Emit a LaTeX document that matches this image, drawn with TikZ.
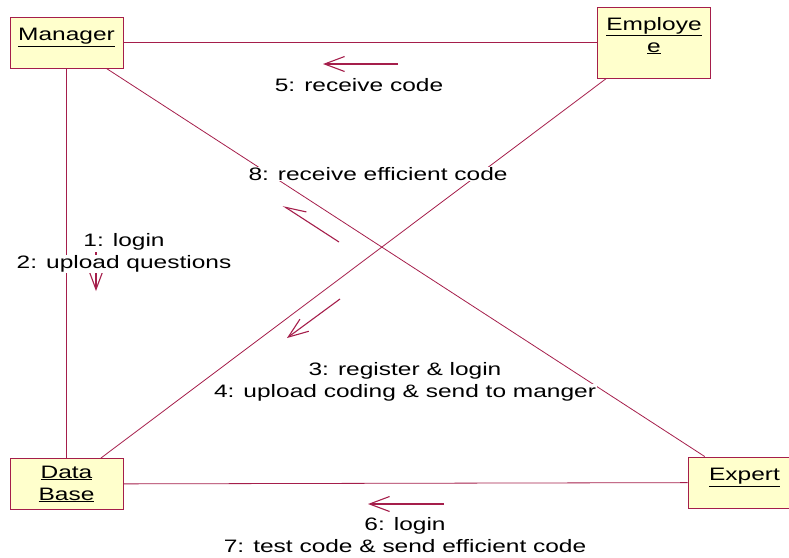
\documentclass[tikz,border=0pt]{standalone}
\usepackage{fontspec}
\setmainfont{Liberation Sans}[FakeStretch=1.36]
\usetikzlibrary{arrows.meta}
\definecolor{umlred}{RGB}{165,30,75}
\definecolor{umlfill}{RGB}{255,255,204}
\newcommand{\bgl}[1]{{\setlength{\fboxsep}{0.6pt}\colorbox{white}{#1}}}

\begin{document}
\begin{tikzpicture}[x=1pt, y=-1pt,
  obj/.style={draw=umlred, fill=umlfill, line width=0.9pt, minimum width=113pt,
    minimum height=51pt, inner sep=0pt, align=center,
    font=\fontsize{18}{22}\selectfont},
  link/.style={draw=umlred, line width=0.8pt},
  msg/.style={draw=umlred, line width=1.1pt, -{Straight Barb[length=20pt,width=15pt]}},
  desc/.style={inner sep=0pt, align=center, font=\fontsize{18}{22}\selectfont}
]
  \useasboundingbox (0,0) rectangle (789,557);
  \clip (0,0) rectangle (789,557);

  % objects
  \node[obj] (manager) at (66.5,42.5) {\underline{Manager}\\[-6pt]\mbox{}};
  \node[obj, minimum height=71pt] (employe) at (654,42.5) {\underline{Employe}\\\underline{e}\\[-6pt]\mbox{}};
  \node[obj] (database) at (66.5,484) {\underline{Data}\\\underline{Base}};
  \node[obj] (expert) at (744.5,482.5) {\underline{Expert}\\[-6pt]\mbox{}};

  % links
  \draw[link] (manager) -- (employe);
  \draw[link] (manager) -- (database);
  \draw[link] (manager) -- (expert);
  \draw[link] (employe) -- (database);
  \draw[link] (database) -- (expert);

  % message arrows
  \coordinate (m5s) at (398,64);   \coordinate (m5e) at (323,64);
  \coordinate (m8s) at (339,242);  \coordinate (m8e) at (283,205.7);
  \coordinate (m1s) at (96,252);   \coordinate (m1e) at (96,291);
  \coordinate (m3s) at (340,299);  \coordinate (m3e) at (287,338);
  \coordinate (m6s) at (444,504);  \coordinate (m6e) at (368,504);
  \draw[msg] (m5s) -- (m5e);
  \draw[msg, -{Straight Barb[harpoon,swap,length=20pt,width=15pt]}] (m8s) -- (m8e);
  \draw[msg] (m1s) -- (m1e);
  \draw[msg] (m3s) -- (m3e);
  \draw[msg] (m6s) -- (m6e);

  % message labels
  \node[desc] (lbl5) at (359,85) {\bgl{5: receive code}};
  \node[desc] (lbl8) at (378,174) {\bgl{8: receive efficient code}};
  \node[desc] (lbl12) at (124,253) {\bgl{1: login}\\\bgl{2: upload questions}};
  \node[desc] (lbl34) at (405,382) {\bgl{3: register \& login}\\\bgl{4: upload coding \& send to manger}};
  \node[desc] (lbl67) at (405,535) {\bgl{6: login}\\\bgl{7: test code \& send efficient code}};
\end{tikzpicture}
\end{document}
